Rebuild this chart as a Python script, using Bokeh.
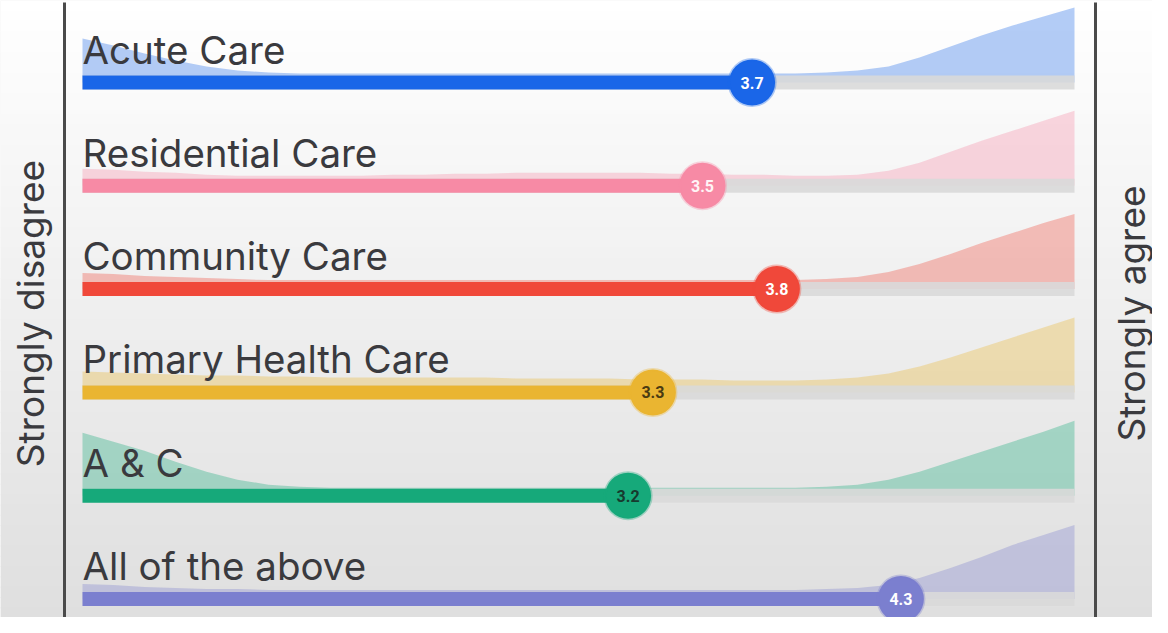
import math
from bokeh.plotting import figure
from bokeh.models import Range1d, ColumnDataSource
from bokeh.core.properties import value
from bokeh.embed import file_html
from bokeh.resources import INLINE

# ---------------- data ----------------
categories = ["Acute Care", "Residential Care", "Community Care",
              "Primary Health Care", "A & C", "All of the above"]
means = [3.7, 3.5, 3.8, 3.3, 3.2, 4.3]
scale_min = 1
scale_max = 5
left_label = "Strongly disagree"
right_label = "Strongly agree"

density_x = [1.0, 1.125, 1.25, 1.375, 1.5, 1.625, 1.75, 1.875,
             2.0, 2.125, 2.25, 2.375, 2.5, 2.625, 2.75, 2.875,
             3.0, 3.125, 3.25, 3.375, 3.5, 3.625, 3.75, 3.875,
             4.0, 4.125, 4.25, 4.375, 4.5, 4.625, 4.75, 4.875, 5.0]
density_acute = [37, 30, 22, 15, 9, 5, 3, 2,
                 2, 2, 2, 2, 2, 2, 2, 2,
                 2, 2, 2, 2, 2, 2, 2, 2,
                 3, 5, 9, 18, 29, 40, 50, 59, 68]
density_residential = [10, 9, 7, 6, 4, 3, 3, 3,
                       3, 3, 4, 4, 5, 5, 6, 6,
                       6, 6, 6, 5, 5, 4, 4, 3,
                       3, 4, 8, 16, 27, 38, 48, 58, 68]
density_community = [9, 8, 6, 5, 4, 3, 2, 2,
                     2, 2, 2, 2, 2, 2, 2, 2,
                     2, 2, 2, 2, 2, 2, 2, 2,
                     3, 5, 10, 18, 28, 39, 49, 59, 68]
density_primary = [14, 13, 12, 11, 10, 10, 9, 9,
                   8, 8, 8, 8, 8, 8, 7, 7,
                   7, 7, 6, 6, 6, 5, 5, 5,
                   6, 8, 12, 19, 28, 38, 48, 58, 68]
density_ac = [56, 47, 38, 27, 17, 9, 4, 2,
              1, 1, 1, 1, 1, 1, 1, 1,
              1, 1, 1, 1, 1, 1, 1, 1,
              2, 4, 9, 17, 27, 37, 47, 57, 68]
density_all = [8, 7, 5, 4, 3, 3, 2, 2,
               2, 2, 2, 2, 2, 2, 2, 2,
               2, 2, 2, 2, 2, 2, 2, 2,
               3, 4, 7, 14, 24, 35, 47, 57, 67]
densities = [density_acute, density_residential, density_community,
             density_primary, density_ac, density_all]

# ---------------- style ----------------
colors = ["#1a66e8", "#f78aa5", "#f0483a", "#eab531", "#16a97a", "#7b7fcf"]
dot_text_colors = ["#ffffff", "#fff4f6", "#ffffff", "#4a3b12", "#173a2e", "#ffffff"]
W, H = 1152, 617
PX_X = 248.0      # px per scale unit
PX_Y = 103.3      # px per row
X0_PX = 82        # px of scale_min
Y0_PX = 82        # px of first row centre

x_start = scale_min - X0_PX / PX_X
x_end = scale_min + (W - X0_PX) / PX_X
y_top = -Y0_PX / PX_Y
y_bottom = (H - Y0_PX) / PX_Y

def dx(px):
    return px / PX_X

def dy(px):
    return px / PX_Y

p = figure(width=W, height=H, output_backend="svg", toolbar_location=None,
           x_range=Range1d(x_start, x_end), y_range=Range1d(y_bottom, y_top),
           min_border=0)
p.axis.visible = False
p.grid.visible = False
p.outline_line_color = None
p.background_fill_color = "#f2f2f2"
p.border_fill_color = "#f2f2f2"

# background gradient (white top -> light grey bottom)
n_bands = 60
tops, bottoms, bcols = [], [], []
for i in range(n_bands):
    t = i / (n_bands - 1)
    c = int(round(255 - t * 32))
    tops.append(y_top + (y_bottom - y_top) * i / n_bands)
    bottoms.append(y_top + (y_bottom - y_top) * (i + 1) / n_bands + 0.01)
    bcols.append("#%02x%02x%02x" % (c, c, c))
p.quad(left=x_start, right=x_end, top=tops, bottom=bottoms,
       fill_color=bcols, line_color=None)

bar_h = dy(14)
rows = list(range(len(categories)))

# density areas
for i, dens in enumerate(densities):
    y2 = [i - bar_h / 2 - dy(d) for d in dens]
    p.varea(x=density_x, y1=[i] * len(density_x), y2=y2,
            fill_color=colors[i], fill_alpha=0.33)

# grey tracks
p.hbar(y=rows, left=scale_min, right=scale_max, height=bar_h,
       fill_color="#d9d9d9", line_color=None, fill_alpha=0.9)

# coloured bars
src = ColumnDataSource(dict(y=rows, mean=means, color=colors,
                            tcolor=dot_text_colors,
                            label=["%.1f" % m for m in means],
                            cat=categories,
                            ly=[r - dy(33) for r in rows]))
p.hbar(y="y", left=scale_min, right="mean", height=bar_h,
       fill_color="color", line_color=None, source=src)

# dots
p.scatter(x="mean", y="y", size=46, fill_color="color", line_color="color",
          line_alpha=0.35, line_width=3, source=src)
p.text(x="mean", y="y", text="label", text_color="tcolor",
       text_font=value("Roboto"), text_font_style="bold",
       text_font_size="16px", text_align="center", text_baseline="middle",
       source=src)

# row labels
p.text(x=scale_min, y="ly", text="cat", text_color="#3a3a3e",
       text_font=value("Inter"), text_font_size="38.5px",
       text_align="left", text_baseline="middle", source=src)

# side lines
lx = scale_min + dx(64 - X0_PX)
rx = scale_min + dx(1095 - X0_PX)
p.segment(x0=[lx, rx], y0=[y_top + dy(2)] * 2, x1=[lx, rx], y1=[y_bottom + 0.1] * 2,
          line_color="#4a4a4a", line_width=3)

# side labels
yc = dy(313 - Y0_PX)
p.text(x=[scale_min + dx(30 - X0_PX)], y=[yc], text=[left_label],
       angle=math.pi / 2, text_color="#3a3a3e", text_font=value("Inter"),
       text_font_size="37px", text_align="center", text_baseline="middle")
p.text(x=[scale_min + dx(1131 - X0_PX)], y=[yc], text=[right_label],
       angle=math.pi / 2, text_color="#3a3a3e", text_font=value("Inter"),
       text_font_size="37px", text_align="center", text_baseline="middle")

open("out.html", "w").write(file_html(p, INLINE))
